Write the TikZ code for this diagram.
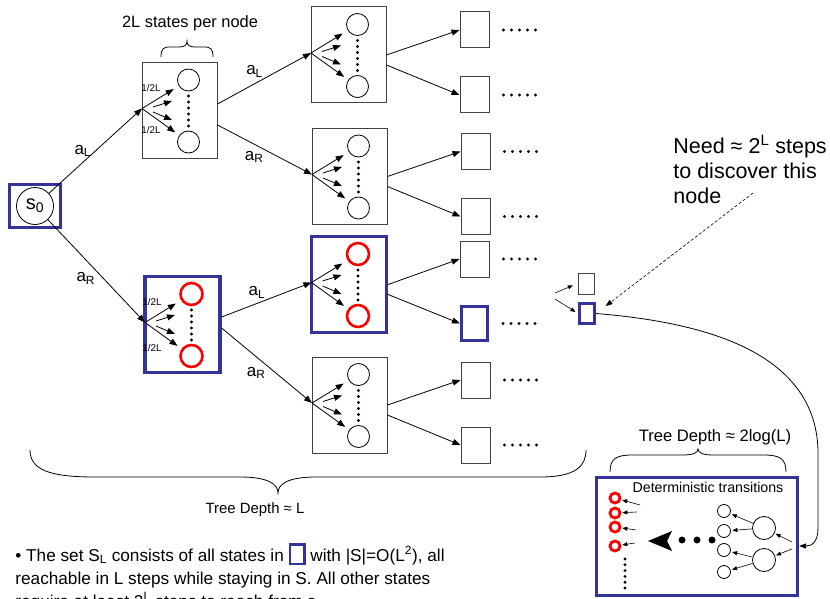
\documentclass[tikz,border=0pt]{standalone}
\usepackage{fontspec}
\setmainfont{Liberation Sans}
\usetikzlibrary{arrows.meta,calc}

\definecolor{setblue}{RGB}{51,51,153}
\definecolor{boxgray}{RGB}{64,64,64}

% blue square used inside the running text
\newcommand{\setsquare}{{\setlength{\fboxrule}{2.5pt}\setlength{\fboxsep}{0pt}%
  \fcolorbox{setblue}{white}{\rule[-1.5pt]{0pt}{17pt}\hspace{12pt}}}}

% one tree node: box, two states, dots and the fan of 1/2L transitions
\newcommand{\subtree}[4]{%
  \node[#3] (#1) at #2 {};
  \node[#4] (#1t) at ($#2+(9,-30.5)$) {};
  \node[#4] (#1b) at ($#2+(9,31.5)$) {};
  \coordinate (#1f) at ($#2+(-37.5,-2)$);
  \coordinate (#1m1) at ($#2+(-26.5,-3.5)$);
  \coordinate (#1m2) at ($#2+(-26.5,1.5)$);
  \foreach \k in {0,...,5}
    \fill[-] ($#2+(9,-14.5+6*\k)$) circle (1.7pt);
  \draw[shorten >=6pt] (#1f) -- (#1t);
  \draw[shorten >=5pt] (#1f) -- (#1b);
  \draw (#1m1) -- ++(19,-6);
  \draw (#1m2) -- ++(19,8);
}

\begin{document}
\begin{tikzpicture}[->,>={Triangle[length=8pt,width=6pt]},x=1pt,y=-1pt,
  line width=0.8pt,
  box node/.style={rectangle,draw=boxgray,line width=1pt,minimum width=75pt,
  minimum height=96pt,inner sep=0pt},
  set node/.style={box node,draw=setblue,line width=3.2pt},
  state node/.style={circle,draw,line width=0.8pt,minimum size=22pt,inner sep=0pt},
  red node/.style={state node,draw=red,line width=2.6pt},
  leaf node/.style={rectangle,draw=boxgray,line width=1pt,minimum width=29pt,
  minimum height=36pt,inner sep=0pt},
  leaf set/.style={leaf node,draw=setblue,line width=3pt,minimum width=26pt,
  minimum height=34pt},
  edge label/.style={font=\fontsize{17}{20}\selectfont,inner sep=1pt},
  prob label/.style={font=\fontsize{9.8}{11}\selectfont,inner sep=0pt},
  small tip/.style={-{Triangle[length=5pt,width=4pt]},line width=0.6pt}]

  \useasboundingbox (0,0) rectangle (830,599);

  % start state
  \node[draw=setblue,line width=3.2pt,minimum width=51pt,minimum height=43pt]
    (start) at (35,206) {};
  \node[state node,minimum size=37pt,font=\fontsize{20}{24}\selectfont]
    (s0) at (35,206) {s\textsubscript{0}};

  % depth 1 and 2
  \subtree{A}{(179.5,110.5)}{box node}{state node}
  \subtree{B}{(182.5,324.5)}{set node}{red node}
  \subtree{C1}{(348.5,55)}{box node}{state node}
  \subtree{C2}{(349.5,176.5)}{box node}{state node}
  \subtree{C3}{(349,284.5)}{set node}{red node}
  \subtree{C4}{(349.5,405)}{box node}{state node}

  \node[prob label] (Ap1) at (151,88) {1/2L};
  \node[prob label] (Ap2) at (151,130) {1/2L};
  \node[prob label] (Bp1) at (152,302) {1/2L};
  \node[prob label] (Bp2) at (152,348) {1/2L};

  \node[font=\fontsize{16.4}{19}\selectfont] (pernode) at (190,23)
    {2L states per node};
  \draw[-] (161,57) .. controls (161,49) and (163,47) .. (170,47) -- (179,47)
    .. controls (185,47) and (187,45) .. (187,41)
    .. controls (187,45) and (189,47) .. (195,47) -- (204,47)
    .. controls (211,47) and (213,49) .. (213,57);

  \draw (s0) -- (Af) node[edge label,midway,left=3pt] {a\textsubscript{L}};
  \draw (s0) -- (Bf) node[edge label,midway,below left=0pt] {a\textsubscript{R}};
  \draw ([yshift=6.5pt]A.east) -- (C1f)
    node[edge label,midway,above left=0pt] {a\textsubscript{L}};
  \draw ([yshift=-14.5pt]A.east) -- (C2f)
    node[edge label,midway,below left=0pt] {a\textsubscript{R}};
  \draw ([yshift=7.5pt]B.east) -- (C3f)
    node[edge label,midway,above left=0pt] {a\textsubscript{L}};
  \draw ([yshift=-3.5pt]B.east) -- (C4f)
    node[edge label,midway,below left=0pt] {a\textsubscript{R}};

  % depth 3
  \node[leaf node] (D1) at (474.5,30) {};
  \node[leaf node] (D2) at (474.5,95) {};
  \node[leaf node] (D3) at (475.5,151.5) {};
  \node[leaf node] (D4) at (475.5,216.5) {};
  \node[leaf node] (D5) at (474.5,259) {};
  \node[leaf set]  (D6) at (474.5,323.5) {};
  \node[leaf node] (D7) at (475.5,380) {};
  \node[leaf node] (D8) at (475.5,445) {};

  \foreach \i in {1,...,8}
    \foreach \k in {0,...,4}
      \fill[-] ([xshift=14pt+8pt*\k]D\i.east) circle (1.7pt);

  \draw (C1.east) -- (D1.west);
  \draw ([yshift=-10pt]C1.east) -- (D2.west);
  \draw (C2.east) -- (D3.west);
  \draw ([yshift=-10pt]C2.east) -- (D4.west);
  \draw (C3.east) -- (D5.west);
  \draw ([yshift=-10pt]C3.east) -- (D6.west);
  \draw (C4.east) -- (D7.west);
  \draw ([yshift=-10pt]C4.east) -- (D8.west);

  % depth L
  \node[leaf node,minimum width=16pt,minimum height=21pt] (E1) at (586,283.5) {};
  \node[leaf set,minimum width=15pt,minimum height=20pt] (E2) at (587,313.5) {};
  \coordinate (Ein1) at (555,293);
  \coordinate (Ein2) at (555,299);
  \draw[small tip,shorten >=5pt] (Ein1) -- (E1.west);
  \draw[small tip,shorten >=3pt] (Ein2) -- (E2.west);

  \node[anchor=north west,align=left,inner sep=0pt,
    font=\fontsize{21.5}{25}\selectfont] (need) at (673,135)
    {Need ≈ 2\textsuperscript{L} steps\\to discover this\\node};
  \coordinate (ntail) at (753,193);
  \draw[dash pattern=on 3pt off 2pt,line width=0.6pt,
    -{Triangle[length=7pt,width=5pt]},shorten >=12pt] (ntail) -- (E2.east);

  % deterministic part
  \node[draw=setblue,line width=3.2pt,minimum width=201pt,minimum height=118pt]
    (F) at (697,536.5) {};
  \node[font=\fontsize{14.2}{17}\selectfont] (dettext) at (708,487)
    {Deterministic transitions};

  \draw[-{Triangle[length=7pt,width=5pt]}] (E2.east)
    .. controls (700,322) and (815,350) .. (818,450) -- (818,528)
    .. controls (818,542) and (812,546) .. ([yshift=-9.5pt]F.east);

  \foreach \n/\y in {1/498,2/513,3/527,4/546}
    \node[circle,draw=red,line width=2.8pt,minimum size=10pt,inner sep=0pt]
      (R\n) at (615,\y) {};
  \foreach \n/\x/\y in {1/640/505,2/637/512,3/636/530,4/635/543}
    \draw[small tip,shorten >=1pt] (\x,\y) -- (R\n);
  \foreach \k in {0,...,5}
    \fill[-] (625,559+5.8*\k) circle (1.6pt);

  \fill[-] (648,541) -- (672,531) -- (667,541) -- (672,551) -- cycle;
  \foreach \x in {682,697,712}
    \fill[-] (\x,540) circle (3.5pt);

  \foreach \n/\y in {1/511,2/531,3/550,4/572}
    \node[state node,minimum size=13pt] (S\n) at (724,\y) {};
  \node[state node,minimum size=23pt] (G1) at (764,528) {};
  \node[state node,minimum size=23pt] (G2) at (764,560) {};
  \draw[small tip,shorten >=1.5pt] (G1) -- (S1);
  \draw[small tip,shorten >=1.5pt] (G1) -- (S2);
  \draw[small tip,shorten >=1.5pt] (G2) -- (S3);
  \draw[small tip,shorten >=1.5pt] (G2) -- (S4);
  \coordinate (Gin1) at (792,542);
  \coordinate (Gin2) at (792,549);
  \draw[small tip,shorten >=1pt] (Gin1) -- (G1);
  \draw[small tip,shorten >=1pt] (Gin2) -- (G2);

  \draw[-] (610,472) .. controls (610,459) and (616,455) .. (632,455) -- (682,455)
    .. controls (693,455) and (698,453) .. (698,449)
    .. controls (698,453) and (703,455) .. (714,455) -- (764,455)
    .. controls (780,455) and (786,459) .. (786,472);
  \node[font=\fontsize{16.6}{19}\selectfont] (depthlog) at (715,437)
    {Tree Depth ≈ 2log(L)};

  % depth of the whole tree
  \draw[-] (30,450) .. controls (30,470) and (50,477) .. (95,477) -- (240,477)
    .. controls (268,477) and (278,484) .. (278,493)
    .. controls (278,484) and (288,477) .. (316,477) -- (540,477)
    .. controls (576,477) and (586,466) .. (586,450);
  \node[font=\fontsize{14.9}{17}\selectfont] (depthL) at (255,510)
    {Tree Depth ≈ L};

  % explanation
  \node[anchor=base west,inner sep=0pt,font=\fontsize{17.2}{23}\selectfont]
    (sl1) at (15,561)
    {• The set S\textsubscript{L} consists of all states in \setsquare{} with
    |S|=O(L\textsuperscript{2}), all};
  \node[anchor=base west,inner sep=0pt,font=\fontsize{17.2}{23}\selectfont]
    (sl2) at (15,584)
    {reachable in L steps while staying in S. All other states};
  \node[anchor=base west,inner sep=0pt,font=\fontsize{17.2}{23}\selectfont]
    (sl3) at (15,607)
    {require at least 2\textsuperscript{L} steps to reach from s\textsubscript{0}};
\end{tikzpicture}
\end{document}
